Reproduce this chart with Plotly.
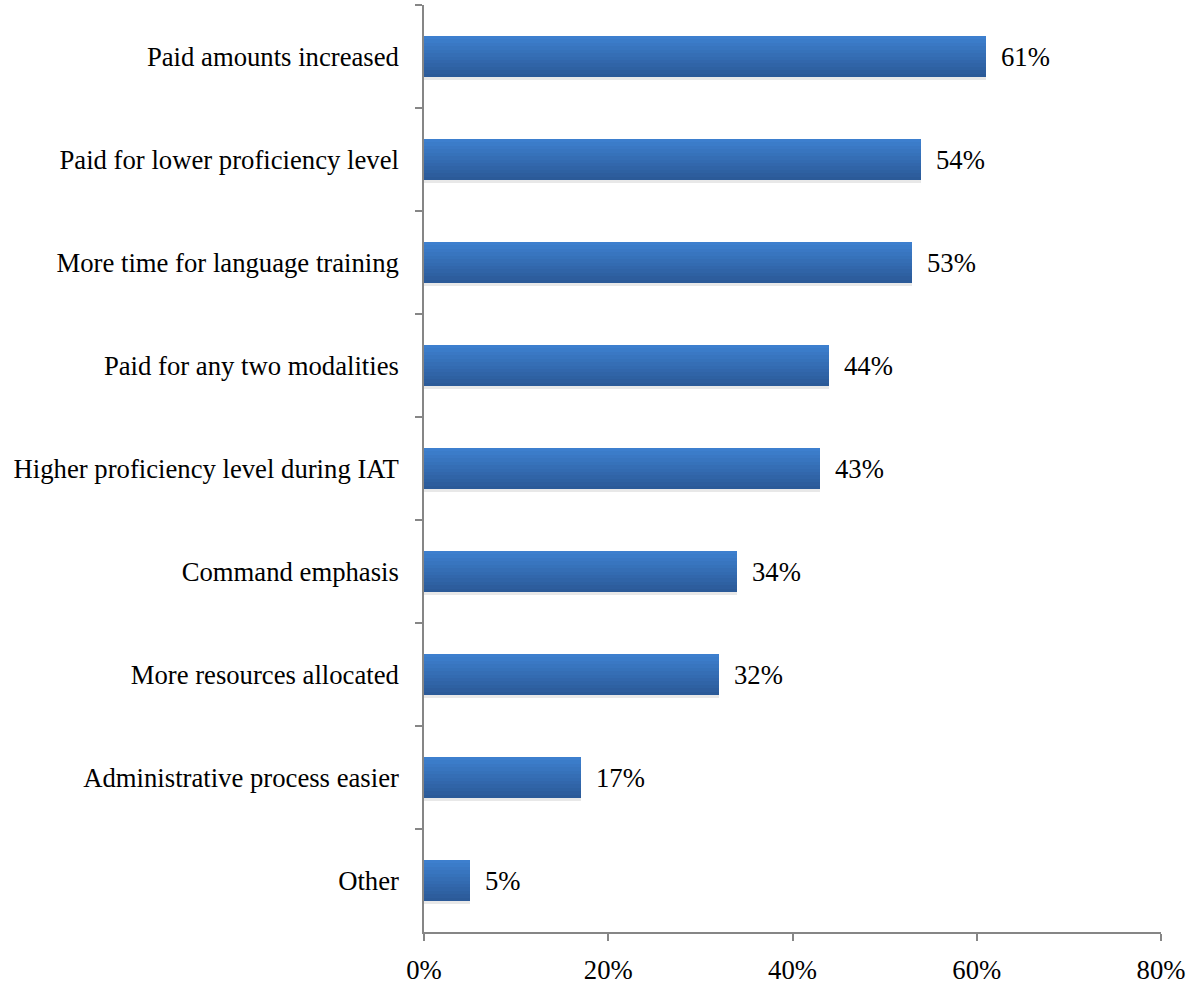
import plotly.graph_objects as go

# Survey responses: share of respondents citing each factor
categories = [
    "Paid amounts increased",
    "Paid for lower proficiency level",
    "More time for language training",
    "Paid for any two modalities",
    "Higher proficiency level during IAT",
    "Command emphasis",
    "More resources allocated",
    "Administrative process easier",
    "Other",
]
values = [0.61, 0.54, 0.53, 0.44, 0.43, 0.34, 0.32, 0.17, 0.05]
x_ticks = [0, 0.2, 0.4, 0.6, 0.8]
x_tick_labels = ["0%", "20%", "40%", "60%", "80%"]

FONT = "Liberation Serif, Times New Roman, serif"
FS = 26.7
BAR_W = 0.40

# vertical gradient from light blue (top edge) to darker blue (bottom edge)
top_rgb = (61, 127, 206)
bot_rgb = (43, 90, 152)
N_STRIPS = 12

fig = go.Figure()

# soft drop shadow under each bar
fig.add_trace(go.Bar(
    y=categories, x=values, orientation="h",
    width=BAR_W, offset=-BAR_W / 2 + 0.03,
    marker=dict(color="rgba(0,0,0,0.09)", line=dict(width=0)),
    hoverinfo="skip", showlegend=False,
))

for i in range(N_STRIPS):
    t = i / (N_STRIPS - 1)
    c = tuple(round(a + (b - a) * t) for a, b in zip(top_rgb, bot_rgb))
    fig.add_trace(go.Bar(
        y=categories, x=values, orientation="h",
        width=BAR_W / N_STRIPS * 1.02,
        offset=-BAR_W / 2 + i * BAR_W / N_STRIPS,
        marker=dict(color=f"rgb{c}", line=dict(width=0)),
        hoverinfo="skip" if i else "x+y", showlegend=False,
    ))

# value labels to the right of each bar
for cat, v in zip(categories, values):
    fig.add_annotation(
        x=v, y=cat, text=f"{round(v * 100)}%",
        showarrow=False, xanchor="left", yanchor="middle", xshift=13,
        font=dict(family=FONT, size=FS, color="black"),
    )

fig.update_layout(
    width=1192, height=986,
    margin=dict(l=424, r=31, t=5, b=54),
    barmode="overlay", bargap=0,
    paper_bgcolor="white", plot_bgcolor="white",
    font=dict(family=FONT, size=FS, color="black"),
    showlegend=False,
)
fig.update_xaxes(
    range=[0, 0.8], tickvals=x_ticks, ticktext=x_tick_labels,
    showgrid=False, zeroline=False, automargin=False,
    showline=True, linecolor="#868686", linewidth=1.5,
    ticks="outside", ticklen=7, tickcolor="#868686", tickwidth=1.5,
    ticklabelstandoff=6,
)
fig.update_yaxes(
    autorange="reversed", type="category", automargin=False,
    showgrid=False, zeroline=False,
    showline=True, linecolor="#868686", linewidth=1.5,
    ticks="outside", ticklen=7, tickcolor="#868686", tickwidth=1.5,
    tickson="boundaries", ticklabelstandoff=18,
)

fig.write_html("out.html")
